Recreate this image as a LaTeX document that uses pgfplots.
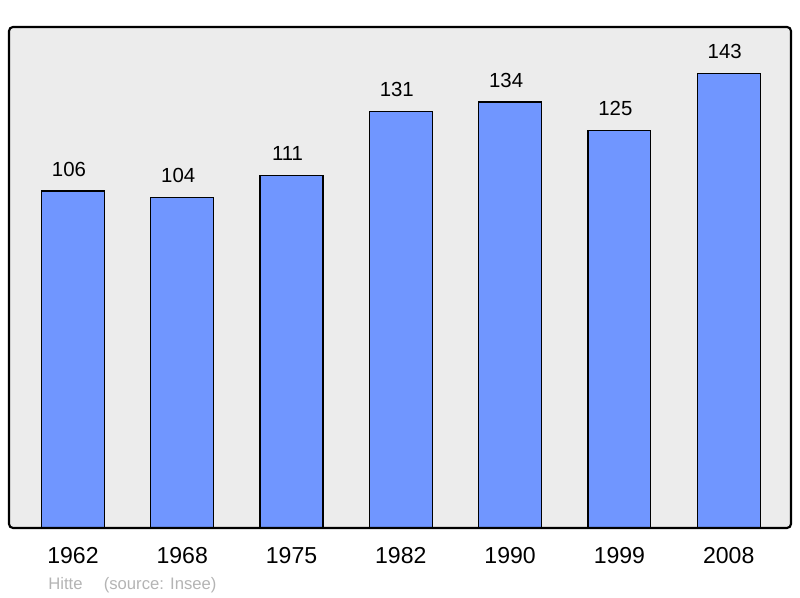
\documentclass[border=0pt]{standalone}
\usepackage{pgfplots}
\pgfplotsset{compat=1.18}
\usepackage{fontspec}
\setmainfont{Liberation Sans}
\definecolor{bgray}{HTML}{ECECEC}
\definecolor{barblue}{HTML}{7096FF}
\definecolor{srcgray}{HTML}{B4B4B4}
\begin{document}
\begin{tikzpicture}
\useasboundingbox (0pt,0pt) rectangle (600pt,448.5pt);
\begin{axis}[
    at={(6.75pt,52.5pt)}, anchor=south west,
    width=586.5pt, height=375.75pt, scale only axis,
    xmin=-0.585, xmax=6.57, ymin=0, ymax=157.6,
    xtick={0,...,6},
    xticklabels={1962,1968,1975,1982,1990,1999,2008},
    ytick=\empty, major tick length=0pt,
    axis line style={draw=none},
    axis background/.style={fill=bgray},
    xticklabel style={font=\fontsize{17.3}{19}\selectfont, yshift=-11pt},
    /pgf/number format/assume math mode=true,
    nodes near coords,
    every node near coord/.append style={font=\fontsize{15.3}{17}\selectfont, anchor=south, inner sep=0pt, yshift=10.5pt, xshift=-3pt},
    clip=false
]
\addplot[ybar, bar width=0.576, fill=barblue, draw=black, line width=0.9pt]
    coordinates {(0,106) (1,104) (2,111) (3,131) (4,134) (5,125) (6,143)};
\draw[line width=1.6pt, rounded corners=3pt] (rel axis cs:0,0) rectangle (rel axis cs:1,1);
\end{axis}
\node[anchor=base west, inner sep=0pt, text=srcgray, font=\fontsize{12.5}{14}\selectfont] at (36pt,6pt) {Hitte\quad\ (source: Insee)};
\end{tikzpicture}
\end{document}
